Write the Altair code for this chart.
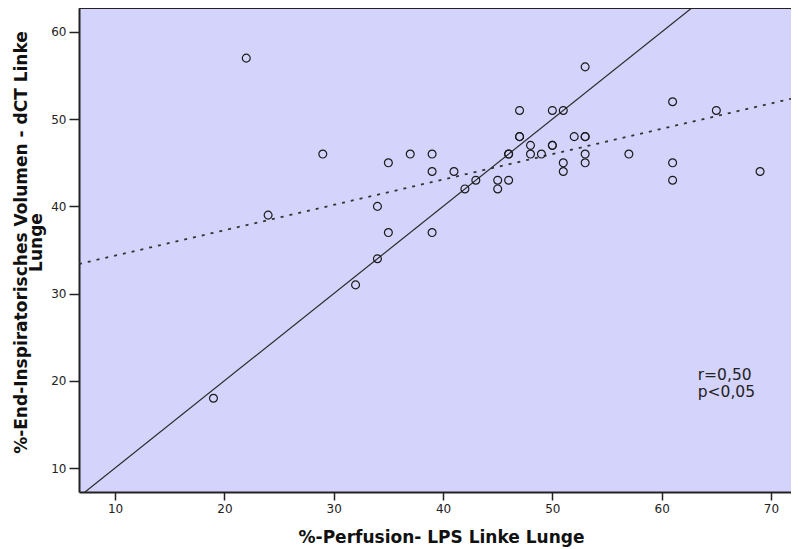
import altair as alt
import pandas as pd

# ---- data ----
perfusion = [19, 22, 24, 29, 32, 34, 34, 35, 35, 37, 39, 39, 39, 41, 42, 43, 45, 45,
             46, 46, 46, 47, 47, 47, 48, 48, 49, 50, 50, 50, 51, 51, 51, 52, 53, 53,
             53, 53, 53, 57, 61, 61, 61, 65, 69]
volumen = [18, 57, 39, 46, 31, 40, 34, 45, 37, 46, 46, 44, 37, 44, 42, 43, 43, 42,
           46, 46, 43, 51, 48, 48, 47, 46, 46, 51, 47, 47, 51, 45, 44, 48, 48, 48,
           56, 46, 45, 46, 52, 45, 43, 51, 44]
x_ticks = [10, 20, 30, 40, 50, 60, 70]
y_ticks = [10, 20, 30, 40, 50, 60]
x_domain = [6.7, 71.83]
y_domain = [7.25, 62.75]
identity_range = [0, 80]
annot_lines = ["r=0,50", "p<0,05"]
annot_pos = [63.3, 20.15]

x_title = "%-Perfusion- LPS Linke Lunge"
y_title = ["%-End-Inspiratorisches Volumen - dCT Linke", "Lunge"]

W, H = 712, 484
FONT = "DejaVu Sans"
INK = "#222222"

df = pd.DataFrame({"x": perfusion, "y": volumen})
df_id = pd.DataFrame({"x": identity_range, "y": identity_range})
df_annot = pd.DataFrame({"x": [annot_pos[0]], "y": [annot_pos[1]], "t": ["\n".join(annot_lines)]})
df_one = pd.DataFrame({"k": [0]})

xscale = alt.Scale(domain=x_domain, nice=False, zero=False)
yscale = alt.Scale(domain=y_domain, nice=False, zero=False)

x_axis = alt.Axis(
    title=x_title, values=x_ticks, grid=False,
    tickSize=8, tickWidth=1.5, tickColor=INK,
    domainColor=INK, domainWidth=2,
    labelFont=FONT, labelFontSize=12, labelColor=INK, labelPadding=3,
    titleFont=FONT, titleFontSize=17, titleFontWeight="bold", titleColor="#111111",
    titleBaseline="alphabetic", titleY=50, titleX=362, titleAlign="center",
)
y_axis = alt.Axis(
    title=y_title, values=y_ticks, grid=False,
    tickSize=10, tickWidth=1.5, tickColor=INK,
    domainColor=INK, domainWidth=2,
    labelFont=FONT, labelFontSize=12, labelColor=INK, labelPadding=3,
    titleFont=FONT, titleFontSize=17, titleFontWeight="bold", titleColor="#111111",
    titleBaseline="alphabetic", titleX=-53, titleY=234, titleAlign="center",
    titleLineHeight=15,
)

points = alt.Chart(df).mark_point(
    shape="circle", filled=False, size=62, strokeWidth=1.2, color="#1a1a1a", opacity=1
).encode(
    x=alt.X("x:Q", scale=xscale, axis=x_axis),
    y=alt.Y("y:Q", scale=yscale, axis=y_axis),
)

identity = alt.Chart(df_id).mark_line(
    clip=True, color="#2a2a2a", strokeWidth=1.2
).encode(x="x:Q", y="y:Q")

regression = alt.Chart(df).transform_regression(
    "x", "y", extent=x_domain
).mark_line(
    clip=True, color="#333333", strokeWidth=1.8, strokeDash=[3, 6]
).encode(x="x:Q", y="y:Q")

annot = alt.Chart(df_annot).mark_text(
    align="left", baseline="alphabetic", lineBreak="\n", lineHeight=17,
    font=FONT, fontSize=15.5, color=INK
).encode(x="x:Q", y="y:Q", text="t:N")

top_border = alt.Chart(df_one).mark_rule(color=INK, strokeWidth=2).encode(
    x=alt.value(0), x2=alt.value(W), y=alt.value(0)
)

chart = alt.layer(identity, regression, points, annot, top_border).properties(
    width=W, height=H,
    autosize=alt.AutoSizeParams(type="none"),
    padding={"left": 71, "top": 0, "right": 0, "bottom": 55},
    background="white",
).configure_view(fill="#d3d3fc", stroke="transparent")

chart.save("out.html", embed_options={"renderer": "svg", "actions": False})
